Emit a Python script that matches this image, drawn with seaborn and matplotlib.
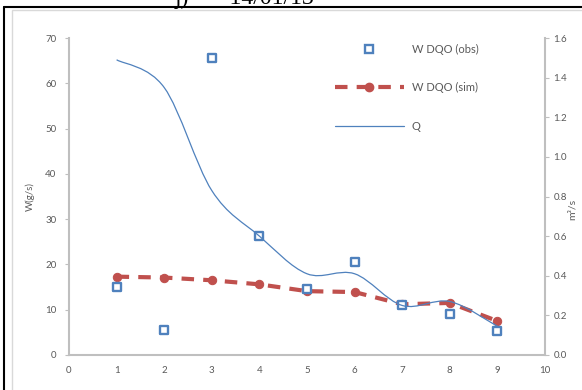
import numpy as np
import pandas as pd
import seaborn as sns
import matplotlib.pyplot as plt
from matplotlib.path import Path
from matplotlib.patches import PathPatch, Rectangle
from matplotlib.lines import Line2D

# data
x = [1, 2, 3, 4, 5, 6, 7, 8, 9]
w_obs = [15.0, 5.5, 65.5, 26.3, 14.5, 20.6, 11.1, 9.1, 5.2]
w_sim = [17.3, 17.1, 16.5, 15.6, 14.1, 13.9, 11.2, 11.5, 7.5]
q = [1.49, 1.35, 0.83, 0.60, 0.41, 0.41, 0.25, 0.27, 0.145]

df = pd.DataFrame({"x": x, "obs": w_obs, "sim": w_sim, "q": q})

sns.set_style("white")
plt.rcParams['font.family'] = ['Lato', 'DejaVu Sans']

gray_txt = '#595959'
blue = '#4F81BD'
red = '#C0504D'

fig = plt.figure(figsize=(5.82, 3.9), dpi=100)
ax = fig.add_axes([69/582, 1-355/390, (545-69)/582, (355-38)/390])
ax2 = ax.twinx()

# frame lines of the original document
fig.add_artist(Line2D([4/582, 4/582], [0, 1-7/390], color='black', lw=1.5, transform=fig.transFigure))
fig.add_artist(Line2D([4/582, 1], [1-7/390, 1-7/390], color='black', lw=1.5, transform=fig.transFigure))
fig.add_artist(Rectangle((12/582, -0.1), 1.0, 1-10/390+0.1, fill=False, ec='#d9d9d9', lw=1, transform=fig.transFigure))
fig.text(175/582, 1-4/390, "j)       14/01/13", family='Liberation Serif', fontsize=17, va='baseline', ha='left', color='black')

sns.lineplot(data=df, x="x", y="sim", ax=ax, color=red, lw=3, marker='o', markersize=6,
             markeredgecolor=red, dashes=False, linestyle=(0, (3, 2.2)), zorder=3)
sns.scatterplot(data=df, x="x", y="obs", ax=ax, marker='s', s=34, facecolor='white',
                edgecolor=blue, linewidth=1.7, zorder=4)

# smoothed Q curve (Excel-like bezier through the points)
pts = np.column_stack([x, q])
verts = [tuple(pts[0])]
codes = [Path.MOVETO]
for i in range(len(pts) - 1):
    p0 = pts[i - 1] if i > 0 else pts[i]
    p1 = pts[i]
    p2 = pts[i + 1]
    p3 = pts[i + 2] if i + 2 < len(pts) else pts[i + 1]
    c1 = p1 + (p2 - p0) / 6
    c2 = p2 - (p3 - p1) / 6
    verts += [tuple(c1), tuple(c2), tuple(p2)]
    codes += [Path.CURVE4] * 3
ax2.add_patch(PathPatch(Path(verts, codes), fill=False, ec=blue, lw=0.9))

ax.set_xlim(0, 10)
ax.set_ylim(0, 70)
ax2.set_ylim(0, 1.6)
ax.set_xticks(range(0, 11))
ax.set_yticks(range(0, 71, 10))
ax2.set_yticks(np.arange(0, 1.61, 0.2))
ax2.set_yticklabels([f"{v:.1f}" for v in np.arange(0, 1.61, 0.2)])
ax.set_xlabel("")
ax.set_ylabel("W(g/s)", fontsize=7, color=gray_txt)
ax.yaxis.set_label_coords(-0.071, 0.5)
ax2.set_ylabel("m³/s", fontsize=7.5, color=gray_txt, rotation=90)
ax2.yaxis.set_label_coords(1.047, 0.46)

for a in (ax, ax2):
    for s in a.spines.values():
        s.set_visible(False)
    a.tick_params(labelsize=7, colors=gray_txt, length=0)
    a.grid(False)
ax.spines['left'].set_visible(True)
ax.spines['bottom'].set_visible(True)
ax2.spines['right'].set_visible(True)
for s in (ax.spines['left'], ax.spines['bottom'], ax2.spines['right']):
    s.set_color('#bfbfbf')
    s.set_linewidth(1.5)
ax.tick_params(axis='y', length=3, color='#bfbfbf', pad=6)
ax.tick_params(axis='x', pad=8)
ax2.tick_params(axis='y', length=3, color='#bfbfbf', pad=3)

handles = [
    Line2D([], [], ls='none', marker='s', markersize=6, mfc='white', mec=blue, mew=1.7),
    Line2D([], [], color=red, lw=3, ls=(0, (3, 2.2)), marker='o', markersize=6),
    Line2D([], [], color=blue, lw=0.9),
]
leg = ax.legend(handles, ["W DQO (obs)", "W DQO (sim)", "Q"], loc='upper left',
                bbox_to_anchor=(335/582, 1-44/390), bbox_transform=fig.transFigure,
                frameon=False, fontsize=8, handlelength=6.2, handletextpad=0.7,
                labelspacing=2.45, borderpad=0, borderaxespad=0)
for t in leg.get_texts():
    t.set_color(gray_txt)

fig.savefig("out.png", dpi=100)
